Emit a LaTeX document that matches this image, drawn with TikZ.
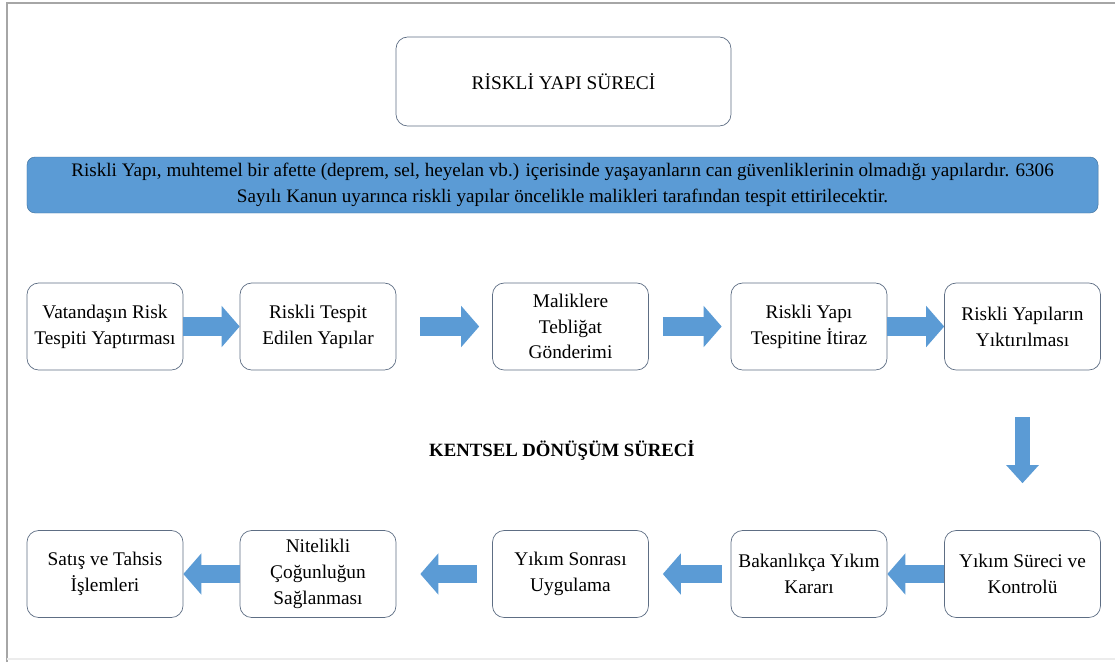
\documentclass[tikz,border=0pt]{standalone}
\usepackage{fontspec}
\setmainfont{Liberation Serif}
\usetikzlibrary{arrows.meta}

\definecolor{barblue}{HTML}{5B9BD5}
\definecolor{barline}{HTML}{41719C}
\definecolor{boxline}{HTML}{5E6E84}

\tikzset{
  stepbox/.style={draw=boxline, line width=.6pt, rounded corners=3.5mm, fill=white,
    minimum width=4.68cm, minimum height=2.61cm, align=center,
    font=\fontsize{16.5}{22}\selectfont},
  rowarrow/.style={draw=barblue, line width=5.6mm,
    -{Triangle[length=5.4mm, width=12.4mm, line width=0pt]}},
  colarrow/.style={draw=barblue, line width=4.4mm,
    -{Triangle[length=5.4mm, width=9.8mm, line width=0pt]}}
}

\begin{document}
\begin{tikzpicture}[x=.3mm, y=-.3mm]

    \useasboundingbox (0,0) rectangle (1115,662);

    % frame
    \draw[gray!70, line width=.6mm] (7,662) -- (7,3) -- (1115,3);
    \draw[gray!15, line width=.4mm] (7,659) -- (1115,659);

    % title and explanation
    \node[stepbox, minimum width=10.05cm, minimum height=2.67cm,
      font=\fontsize{16.5}{19}\selectfont] (title) at (563.5,81.5)
      {RİSKLİ YAPI SÜRECİ};

    \node[draw=barline, fill=barblue, rounded corners=2.4mm,
      minimum width=32.13cm, minimum height=1.68cm, align=center,
      font=\fontsize{16.3}{22}\selectfont] (info) at (562.5,185)
      {Riskli Yapı, muhtemel bir afette (deprem, sel, heyelan vb.) içerisinde yaşayanların can güvenliklerinin olmadığı yapılardır. 6306\\
       Sayılı Kanun uyarınca riskli yapılar öncelikle malikleri tarafından tespit ettirilecektir.};

    % riskli yapi row
    \node[stepbox] (r1) at (105,326.5)  {Vatandaşın Risk\\Tespiti Yaptırması};
    \node[stepbox] (r2) at (318,326.5)  {Riskli Tespit\\Edilen Yapılar};
    \node[stepbox] (r3) at (570.5,326.5) {Maliklere\\Tebliğat\\Gönderimi};
    \node[stepbox] (r4) at (809,326.5)  {Riskli Yapı\\Tespitine İtiraz};
    \node[stepbox] (r5) at (1022.5,326.5) {Riskli Yapıların\\Yıktırılması};

    \node[font=\fontsize{16}{19}\selectfont\bfseries] (kentsel) at (562,450)
      {KENTSEL DÖNÜŞÜM SÜRECİ};

    % kentsel donusum row
    \node[stepbox] (k1) at (105,574)  {Satış ve Tahsis\\İşlemleri};
    \node[stepbox] (k2) at (318,574)  {Nitelikli\\Çoğunluğun\\Sağlanması};
    \node[stepbox] (k3) at (570.5,574) {Yıkım Sonrası\\Uygulama};
    \node[stepbox] (k4) at (809,574)  {Bakanlıkça Yıkım\\Kararı};
    \node[stepbox] (k5) at (1022.5,574) {Yıkım Süreci ve\\Kontrolü};

    % block arrows
    \draw[rowarrow] (r1) -- (r2);
    \draw[rowarrow, shorten <=7.2mm, shorten >=3.9mm] (r2) -- (r3);
    \draw[rowarrow, shorten <=4.2mm, shorten >=2.7mm] (r3) -- (r4);
    \draw[rowarrow] (r4) -- (r5);

    \draw[colarrow, shorten <=14.1mm, shorten >=14.1mm] (r5) -- (k5);

    \draw[rowarrow] (k5) -- (k4);
    \draw[rowarrow, shorten <=2.7mm, shorten >=4.2mm] (k4) -- (k3);
    \draw[rowarrow, shorten <=4.5mm, shorten >=7.2mm] (k3) -- (k2);
    \draw[rowarrow] (k2) -- (k1);

\end{tikzpicture}
\end{document}
